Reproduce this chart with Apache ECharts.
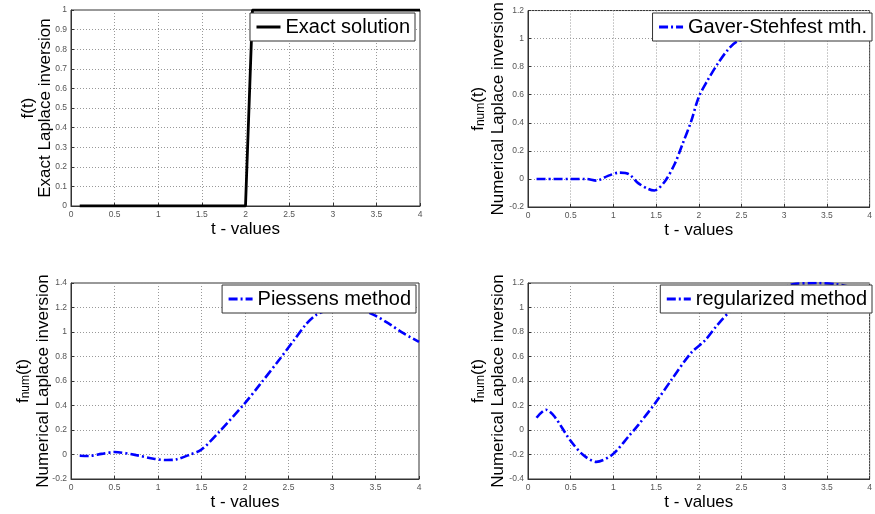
<!DOCTYPE html>
<html>
<head>
<meta charset="utf-8">
<script src="https://cdn.jsdelivr.net/npm/echarts@6/dist/echarts.min.js"></script>
<style>
  html, body { margin: 0; padding: 0; background: #fff; }
  #main { width: 875px; height: 514px; }
</style>
</head>
<body>
<div id="main"></div>
<script>
// exact solution (unit step at t = 2)
const exactT = [0.1, 2.0, 2.08, 4.0]
const exactF = [0, 0, 1, 1]

// Gaver-Stehfest
const gaverT = [0.1, 0.3, 0.5, 0.68, 0.8, 0.93, 1.07, 1.18, 1.29, 1.41, 1.48, 1.6, 1.72, 1.81, 1.91, 2.0, 2.1, 2.22, 2.34, 2.45, 2.6, 2.8, 3.2, 3.6, 4.0]
const gaverF = [0, 0, 0, 0, -0.012, 0.02, 0.045, 0.035, -0.03, -0.072, -0.082, -0.02, 0.11, 0.25, 0.41, 0.585, 0.7, 0.82, 0.92, 0.98, 1.0, 1.01, 1.0, 1.0, 1.0]

// Piessens
const piessensT = [0.1, 0.2, 0.35, 0.5, 0.75, 0.95, 1.1, 1.21, 1.37, 1.5, 1.71, 2.0, 2.17, 2.4, 2.56, 2.71, 2.82, 3.0, 3.15, 3.3, 3.48, 3.65, 3.82, 4.0]
const piessensF = [-0.01, -0.012, 0.005, 0.02, -0.005, -0.035, -0.045, -0.04, 0, 0.04, 0.19, 0.42, 0.57, 0.78, 0.93, 1.07, 1.14, 1.19, 1.2, 1.19, 1.14, 1.07, 0.99, 0.92]

// regularized
const regT = [0.1, 0.21, 0.31, 0.49, 0.64, 0.8, 0.99, 1.18, 1.29, 1.49, 1.68, 1.91, 2.07, 2.22, 2.37, 2.55, 2.75, 2.99, 3.1, 3.38, 3.61, 3.76, 4.0]
const regF = [0.1, 0.165, 0.11, -0.08, -0.2, -0.26, -0.2, -0.05, 0.04, 0.22, 0.41, 0.63, 0.73, 0.86, 0.97, 1.05, 1.11, 1.16, 1.19, 1.2, 1.19, 1.17, 1.14]

const legendNames = ['Exact solution', 'Gaver-Stehfest mth.', 'Piessens method', 'regularized method']
const yRanges = [[0, 1, 0.1], [-0.2, 1.2, 0.2], [-0.2, 1.4, 0.2], [-0.4, 1.2, 0.2]]

const FONT = 'Liberation Sans, Arial, sans-serif'
const pairs = (t, f) => t.map((v, i) => [v, f[i]])

const grids = [
  { left: 71, top: 10, width: 349, height: 196 },
  { left: 528, top: 10, width: 346, height: 197 },
  { left: 71, top: 283, width: 348, height: 196 },
  { left: 528, top: 283, width: 346, height: 196 },
].map(g => ({ ...g, show: true, borderColor: '#333', borderWidth: 1, backgroundColor: '#fff' }))

const gridLine = { show: true, lineStyle: { color: '#999', type: [1, 2], width: 1 } }
const tickLabel = { color: '#555', fontSize: 8.5, fontFamily: FONT, margin: 4 }

const xAxis = grids.map((g, i) => ({
  gridIndex: i,
  type: 'value',
  min: 0,
  max: 4,
  interval: 0.5,
  name: 't - values',
  nameLocation: 'middle',
  nameGap: 15,
  nameMoveOverlap: false,
  nameTextStyle: { fontSize: 17, color: '#000', fontFamily: FONT },
  axisLine: { onZero: false, lineStyle: { color: '#333' } },
  axisTick: { inside: true, length: 3, lineStyle: { color: '#333' } },
  axisLabel: tickLabel,
  splitLine: gridLine,
}))

const numName = '{f|f}{s|num}{f|(t)}\n{n|Numerical Laplace inversion}'
const numRich = {
  f: { fontSize: 17, lineHeight: 17, verticalAlign: 'top', fontFamily: FONT, color: '#000' },
  s: { fontSize: 12, lineHeight: 12, padding: [10, 0, 0, 0], verticalAlign: 'bottom', fontFamily: FONT, color: '#000' },
  n: { fontSize: 17, lineHeight: 22, fontFamily: FONT, color: '#000' },
}
const exactRich = {
  n: { fontSize: 17, lineHeight: 17, fontFamily: FONT, color: '#000' },
}

const yAxis = yRanges.map((r, i) => ({
  gridIndex: i,
  type: 'value',
  min: r[0],
  max: r[1],
  interval: r[2],
  name: i === 0 ? '{n|f(t)}\n{n|Exact Laplace inversion}' : numName,
  nameLocation: 'middle',
  nameRotate: 90,
  nameGap: i === 0 ? 17 : (i === 2 ? 17 : 19),
  nameMoveOverlap: false,
  nameTextStyle: { rich: i === 0 ? exactRich : numRich, fontFamily: FONT },
  axisLine: { show: true, onZero: false, lineStyle: { color: '#333' } },
  axisTick: { show: true, inside: true, length: 3, lineStyle: { color: '#333' } },
  axisLabel: tickLabel,
  splitLine: gridLine,
}))

const dashDot = [9, 3, 2, 3]
const seriesData = [pairs(exactT, exactF), pairs(gaverT, gaverF), pairs(piessensT, piessensF), pairs(regT, regF)]
const series = seriesData.map((d, i) => ({
  name: legendNames[i],
  type: 'line',
  xAxisIndex: i,
  yAxisIndex: i,
  data: d,
  symbol: 'none',
  smooth: i === 0 ? false : 0.3,
  clip: true,
  lineStyle: i === 0
    ? { color: '#000', width: 2.8, type: 'solid' }
    : { color: '#0000ff', width: 2.6, type: dashDot },
  itemStyle: { color: i === 0 ? '#000' : '#0000ff' },
}))

const legendPos = [
  { right: 460, top: 13 },
  { right: 3, top: 13 },
  { right: 459, top: 285 },
  { right: 3, top: 285 },
]
const legend = legendPos.map((p, i) => ({
  ...p,
  data: [legendNames[i]],
  selectedMode: false,
  backgroundColor: '#fff',
  borderColor: '#333',
  borderWidth: 1,
  borderRadius: 0,
  padding: [4, 5, 4, 5],
  itemWidth: 24,
  itemHeight: 14,
  itemStyle: { opacity: 0 },
  lineStyle: { width: 3 },
  textStyle: { fontSize: 20, color: '#000', fontFamily: FONT },
}))

const chart = echarts.init(document.getElementById('main'), null, { renderer: 'canvas' })
chart.setOption({
  animation: false,
  backgroundColor: '#fff',
  grid: grids,
  xAxis,
  yAxis,
  legend,
  series,
})
</script>
</body>
</html>
